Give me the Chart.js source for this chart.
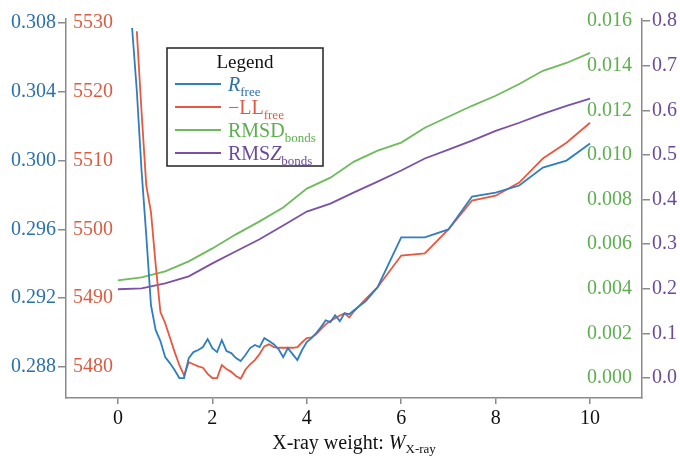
<!DOCTYPE html>
<html>
<head>
<meta charset="utf-8">
<script src="https://cdn.jsdelivr.net/npm/chart.js@4.4.1/dist/chart.umd.min.js"></script>
<style>
  html, body { margin: 0; background: #fff; }
  #wrap { width: 680px; height: 459px; }
</style>
</head>
<body>
<div id="wrap"><canvas id="chart"></canvas></div>
<script>
// X-ray weight sampling used by R_free and -LL_free
const weights = [0.3, 0.4, 0.5, 0.6, 0.7, 0.8, 0.9, 1.0, 1.1, 1.2, 1.3, 1.4, 1.5, 1.6, 1.7, 1.8, 1.9,
  2.0, 2.1, 2.2, 2.3, 2.4, 2.5, 2.6, 2.7, 2.8, 2.9, 3.0, 3.1, 3.2, 3.3, 3.4, 3.5, 3.6, 3.7, 3.8, 3.9,
  4.0, 4.1, 4.2, 4.3, 4.4, 4.5, 4.6, 4.7, 4.8, 4.9, 5.0, 5.25, 5.5, 6.0, 6.5, 7.0, 7.5, 8.0, 8.5, 9.0, 9.5, 10.0];

const rFree = [0.30771, 0.30406, 0.29942, 0.29565, 0.29159, 0.29014, 0.28951, 0.28858, 0.28823, 0.28783,
  0.28736, 0.28736, 0.28852, 0.28887, 0.28899, 0.28916, 0.28962, 0.2891, 0.28887, 0.28957, 0.28893,
  0.28881, 0.28852, 0.28835, 0.2887, 0.2891, 0.28928, 0.28916, 0.28968, 0.28951, 0.28933, 0.28904,
  0.28858, 0.2891, 0.28875, 0.28841, 0.28899, 0.28945, 0.28968, 0.28997, 0.29032, 0.29072, 0.29061,
  0.29101, 0.29067, 0.29113, 0.29107, 0.2913, 0.29183, 0.29264, 0.29554, 0.29554, 0.296, 0.29791,
  0.29814, 0.29855, 0.29959, 0.3, 0.30099];

const negLLfree = [null, 5528.8, 5517.1, 5506.4, 5502.5, 5494.8, 5488.0, 5486.4, 5484.3, 5482.2,
  5480.3, 5478.8, 5480.7, 5480.4, 5480.1, 5479.9, 5479.0, 5478.4, 5478.4, 5480.3, 5479.7,
  5479.3, 5478.7, 5478.3, 5479.6, 5480.4, 5481.0, 5481.9, 5483.0, 5483.3, 5482.9, 5482.8,
  5482.8, 5482.8, 5482.8, 5482.9, 5483.6, 5484.2, 5484.3, 5484.8, 5485.5, 5486.2, 5486.7,
  5487.1, 5487.5, 5487.8, 5487.2, 5488.1, 5489.9, 5491.6, 5496.2, 5496.5, 5500.0, 5504.2,
  5504.9, 5506.8, 5510.3, 5512.6, 5515.5];

// X-ray weight sampling used by the geometry curves
const weightsGeom = [0, 0.5, 1, 1.5, 2, 2.5, 3, 3.5, 4, 4.5, 5, 5.5, 6, 6.5, 7, 7.5, 8, 8.5, 9, 9.5, 10];
const rmsdBonds = [0.00438, 0.00451, 0.00478, 0.00523, 0.00581, 0.00644, 0.00702, 0.00764, 0.00849,
  0.00898, 0.0097, 0.01019, 0.01055, 0.01122, 0.01171, 0.0122, 0.01265, 0.01318, 0.01377, 0.01412, 0.01457];
const rmszBonds = [0.199, 0.201, 0.212, 0.228, 0.257, 0.284, 0.311, 0.342, 0.373, 0.391, 0.416,
  0.440, 0.465, 0.492, 0.512, 0.532, 0.554, 0.572, 0.592, 0.610, 0.626];

const xTicks = [0, 2, 4, 6, 8, 10];
const rFreeTicks = [0.288, 0.292, 0.296, 0.300, 0.304, 0.308];
const llTicks = [5480, 5490, 5500, 5510, 5520, 5530];
const rmsdTicks = [0, 0.002, 0.004, 0.006, 0.008, 0.010, 0.012, 0.014, 0.016];
const rmszTicks = [0, 0.1, 0.2, 0.3, 0.4, 0.5, 0.6, 0.7, 0.8];

const legendNames = [
  [["R", "italic"], ["free", "sub"]],
  [["\u2212LL", ""], ["free", "sub"]],
  [["RMSD", ""], ["bonds", "sub"]],
  [["RMS", ""], ["Z", "italic"], ["bonds", "sub"]]
];

const lineColors = ["#2f7ebf", "#e9573f", "#6dbb5b", "#7a51a5"];
const textColors = ["#2c70ab", "#dc5c43", "#5eae50", "#6a4b98"];
const serif = "'Liberation Serif', 'DejaVu Serif', serif";
const axisGrey = "#8a8a8a";

const pairs = (xs, ys) => xs.map((x, i) => ({ x: x, y: ys[i] }));
const setTicks = (list) => (scale) => { scale.ticks = list.map(v => ({ value: v })); };

const legendBox = {
  id: "legendBox",
  afterDraw(chart) {
    const ctx = chart.ctx;
    const x0 = 167, y0 = 48, w = 156, h = 118;
    ctx.save();
    ctx.fillStyle = "#fff";
    ctx.fillRect(x0, y0, w, h);
    ctx.strokeStyle = "#222";
    ctx.lineWidth = 1.5;
    ctx.strokeRect(x0, y0, w, h);
    ctx.fillStyle = "#111";
    ctx.font = "19px " + serif;
    ctx.textAlign = "center";
    ctx.textBaseline = "alphabetic";
    ctx.fillText("Legend", x0 + w / 2, y0 + 20);
    ctx.textAlign = "left";
    legendNames.forEach((parts, i) => {
      const yc = y0 + 36 + i * 23;
      ctx.strokeStyle = lineColors[i];
      ctx.lineWidth = 1.8;
      ctx.beginPath();
      ctx.moveTo(x0 + 8, yc);
      ctx.lineTo(x0 + 54, yc);
      ctx.stroke();
      let tx = x0 + 61;
      ctx.fillStyle = textColors[i];
      parts.forEach(([t, style]) => {
        if (style === "sub") {
          ctx.font = "13px " + serif;
          ctx.fillText(t, tx, yc + 12);
        } else {
          ctx.font = (style === "italic" ? "italic " : "") + "20px " + serif;
          ctx.fillText(t, tx, yc + 7);
        }
        tx += ctx.measureText(t).width;
      });
    });
    ctx.restore();
  }
};

const xTitle = {
  id: "xTitle",
  afterDraw(chart) {
    const ctx = chart.ctx;
    const area = chart.chartArea;
    const parts = [["X-ray weight: ", ""], ["W", "italic"], ["X-ray", "sub"]];
    ctx.save();
    ctx.fillStyle = "#111";
    ctx.textBaseline = "alphabetic";
    ctx.textAlign = "left";
    const fontOf = (s) => s === "sub" ? "13px " + serif : (s === "italic" ? "italic " : "") + "20px " + serif;
    let total = 0;
    parts.forEach(([t, s]) => { ctx.font = fontOf(s); total += ctx.measureText(t).width; });
    let tx = (area.left + area.right) / 2 - total / 2;
    parts.forEach(([t, s]) => {
      ctx.font = fontOf(s);
      ctx.fillText(t, tx, s === "sub" ? 453 : 449);
      tx += ctx.measureText(t).width;
    });
    ctx.restore();
  }
};

const lineSet = (label, data, color, axis) => ({
  label: label,
  data: data,
  borderColor: color,
  backgroundColor: color,
  borderWidth: 1.8,
  pointRadius: 0,
  tension: 0,
  yAxisID: axis
});

new Chart(document.getElementById("chart"), {
  type: "line",
  data: {
    datasets: [
      lineSet("Rfree", pairs(weights, rFree), lineColors[0], "yR"),
      lineSet("-LLfree", pairs(weights, negLLfree), lineColors[1], "yLL"),
      lineSet("RMSDbonds", pairs(weightsGeom, rmsdBonds), lineColors[2], "yD"),
      lineSet("RMSZbonds", pairs(weightsGeom, rmszBonds), lineColors[3], "yZ")
    ]
  },
  options: {
    responsive: true,
    maintainAspectRatio: false,
    animation: false,
    layout: { padding: { top: 18, left: 0, right: 0, bottom: 0 } },
    plugins: { legend: { display: false }, tooltip: { enabled: false } },
    scales: {
      x: {
        type: "linear",
        min: -1.1,
        max: 11.1,
        afterBuildTicks: setTicks(xTicks),
        afterFit: (s) => { s.height = 61; },
        ticks: { color: "#111", font: { family: serif, size: 20 }, padding: 3 },
        grid: { drawOnChartArea: false, tickLength: 6, color: axisGrey, lineWidth: 1.5 },
        border: { color: axisGrey, width: 1.5 }
      },
      yR: {
        position: "left",
        weight: 1,
        min: 0.2862,
        max: 0.30823,
        afterBuildTicks: setTicks(rFreeTicks),
        afterFit: (s) => { s.width = 66; },
        ticks: { color: textColors[0], font: { family: serif, size: 20 }, padding: 2,
          callback: (v) => v.toFixed(3) },
        grid: { drawOnChartArea: false, tickLength: 8, color: axisGrey, lineWidth: 1.5 },
        border: { color: axisGrey, width: 1.5 }
      },
      yLL: {
        position: "left",
        weight: 0,
        min: 5475.5,
        max: 5530.58,
        afterBuildTicks: setTicks(llTicks),
        afterFit: (s) => { s.width = 0; },
        ticks: { mirror: true, color: textColors[1], font: { family: serif, size: 20 }, padding: 7,
          callback: (v) => String(v) },
        grid: { display: false },
        border: { display: false }
      },
      yD: {
        position: "right",
        weight: 0,
        min: -0.000894,
        max: 0.01609,
        afterBuildTicks: setTicks(rmsdTicks),
        afterFit: (s) => { s.width = 0; },
        ticks: { mirror: true, color: textColors[2], font: { family: serif, size: 20 }, padding: -10,
          callback: (v) => v.toFixed(3) },
        grid: { display: false },
        border: { display: false }
      },
      yZ: {
        position: "right",
        weight: 1,
        min: -0.0447,
        max: 0.8045,
        afterBuildTicks: setTicks(rmszTicks),
        afterFit: (s) => { s.width = 38; },
        ticks: { color: textColors[3], font: { family: serif, size: 20 }, padding: 2,
          callback: (v) => v.toFixed(1) },
        grid: { drawOnChartArea: false, tickLength: 8, color: axisGrey, lineWidth: 1.5 },
        border: { color: axisGrey, width: 1.5 }
      }
    }
  },
  plugins: [legendBox, xTitle]
});
</script>
</body>
</html>
